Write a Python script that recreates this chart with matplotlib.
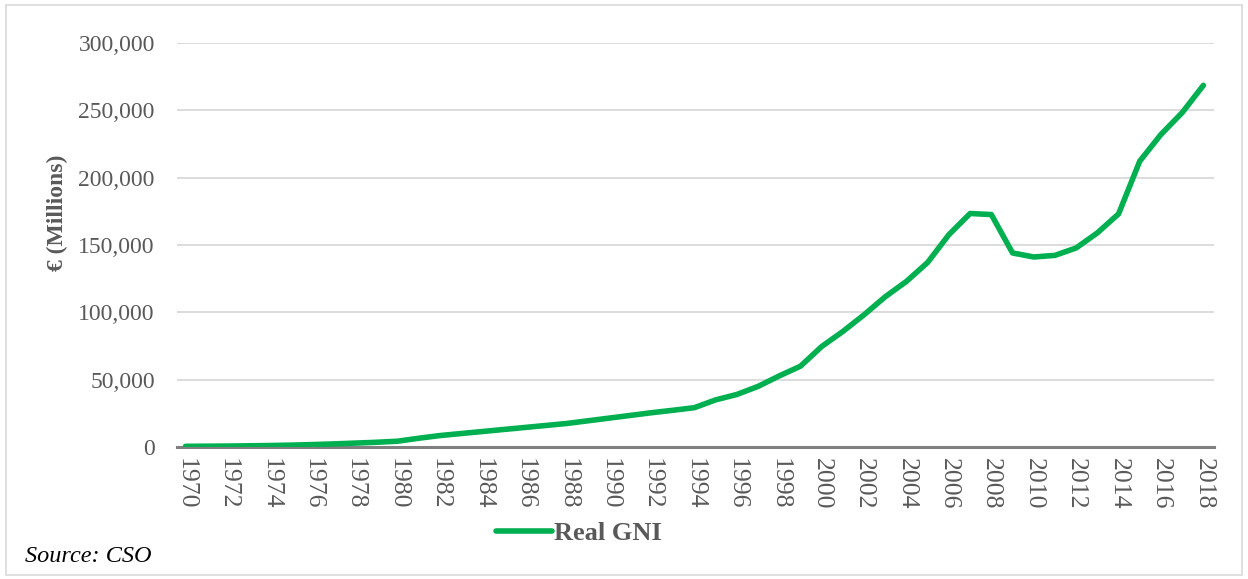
import numpy as np
import matplotlib.pyplot as plt
from matplotlib.patches import Rectangle
from matplotlib.ticker import FuncFormatter

# ==========================================
# data
# ==========================================
years = list(range(1970, 2019))
real_gni = [
    500, 600, 700, 900, 1100, 1400, 1800, 2300, 2900, 3500,
    4300, 6500, 8500, 10000, 11500, 13000, 14500, 16000, 17500, 19500,
    21500, 23500, 25500, 27300, 29200, 35000, 39000, 45000, 52800, 60000,
    74600, 85800, 98200, 111600, 123000, 137100, 157700, 173400, 172600, 144100,
    141100, 142300, 147800, 159000, 173100, 212300, 232100, 248300, 268600,
]
y_ticks = [0, 50000, 100000, 150000, 200000, 250000, 300000]
x_ticks = years[::2]

GREEN = '#00b050'
GREY_TXT = '#595959'

plt.rcParams['font.family'] = ['Liberation Serif', 'DejaVu Serif']

fig = plt.figure(figsize=(12.48, 5.79), dpi=100)
ax = fig.add_axes([177 / 1248, 1 - 447 / 579, (1214 - 177) / 1248, (447 - 43) / 579])

# outer chart border
fig.patches.append(Rectangle((6 / 1248, 4 / 579), 1236 / 1248, 570 / 579,
                             transform=fig.transFigure, fill=False,
                             edgecolor='#d9d9d9', linewidth=1.2))

ax.plot(years, real_gni, color=GREEN, linewidth=4.0, solid_capstyle='round',
        label='Real GNI', zorder=3)

ax.set_xlim(1969.6, 2018.5)
ax.set_ylim(0, 300000)
ax.set_yticks(y_ticks)
ax.set_xticks(x_ticks)
ax.yaxis.set_major_formatter(FuncFormatter(lambda v, p: f"{int(v):,}"))
ax.set_xticklabels([str(y) for y in x_ticks], rotation=270)

ax.grid(axis='y', color='#d9d9d9', linewidth=1.3, zorder=0)
ax.set_axisbelow(True)
for s in ['top', 'right', 'left']:
    ax.spines[s].set_visible(False)
ax.spines['bottom'].set_color('#808080')
ax.spines['bottom'].set_linewidth(2.2)
ax.spines['bottom'].set_zorder(2)

ax.tick_params(axis='y', length=0, pad=16, labelsize=17, labelcolor=GREY_TXT)
ax.tick_params(axis='x', length=0, pad=8, labelsize=18.5, labelcolor=GREY_TXT)

fig.text(57 / 1248, 1 - 213 / 579, '€ (Millions)', rotation=90, ha='center', va='center',
         fontsize=17, fontweight='bold', color=GREY_TXT)

ax.legend(loc='center', bbox_to_anchor=(579 / 1248, 1 - 533 / 579),
          bbox_transform=fig.transFigure, frameon=False,
          prop={'size': 19, 'weight': 'bold'}, labelcolor=GREY_TXT,
          handlelength=2.1, handletextpad=0.1)

fig.text(25 / 1248, 1 - 557 / 579, 'Source: CSO', ha='left', va='center',
         fontsize=17.5, style='italic', color='black')

fig.savefig('out.png', dpi=100)
